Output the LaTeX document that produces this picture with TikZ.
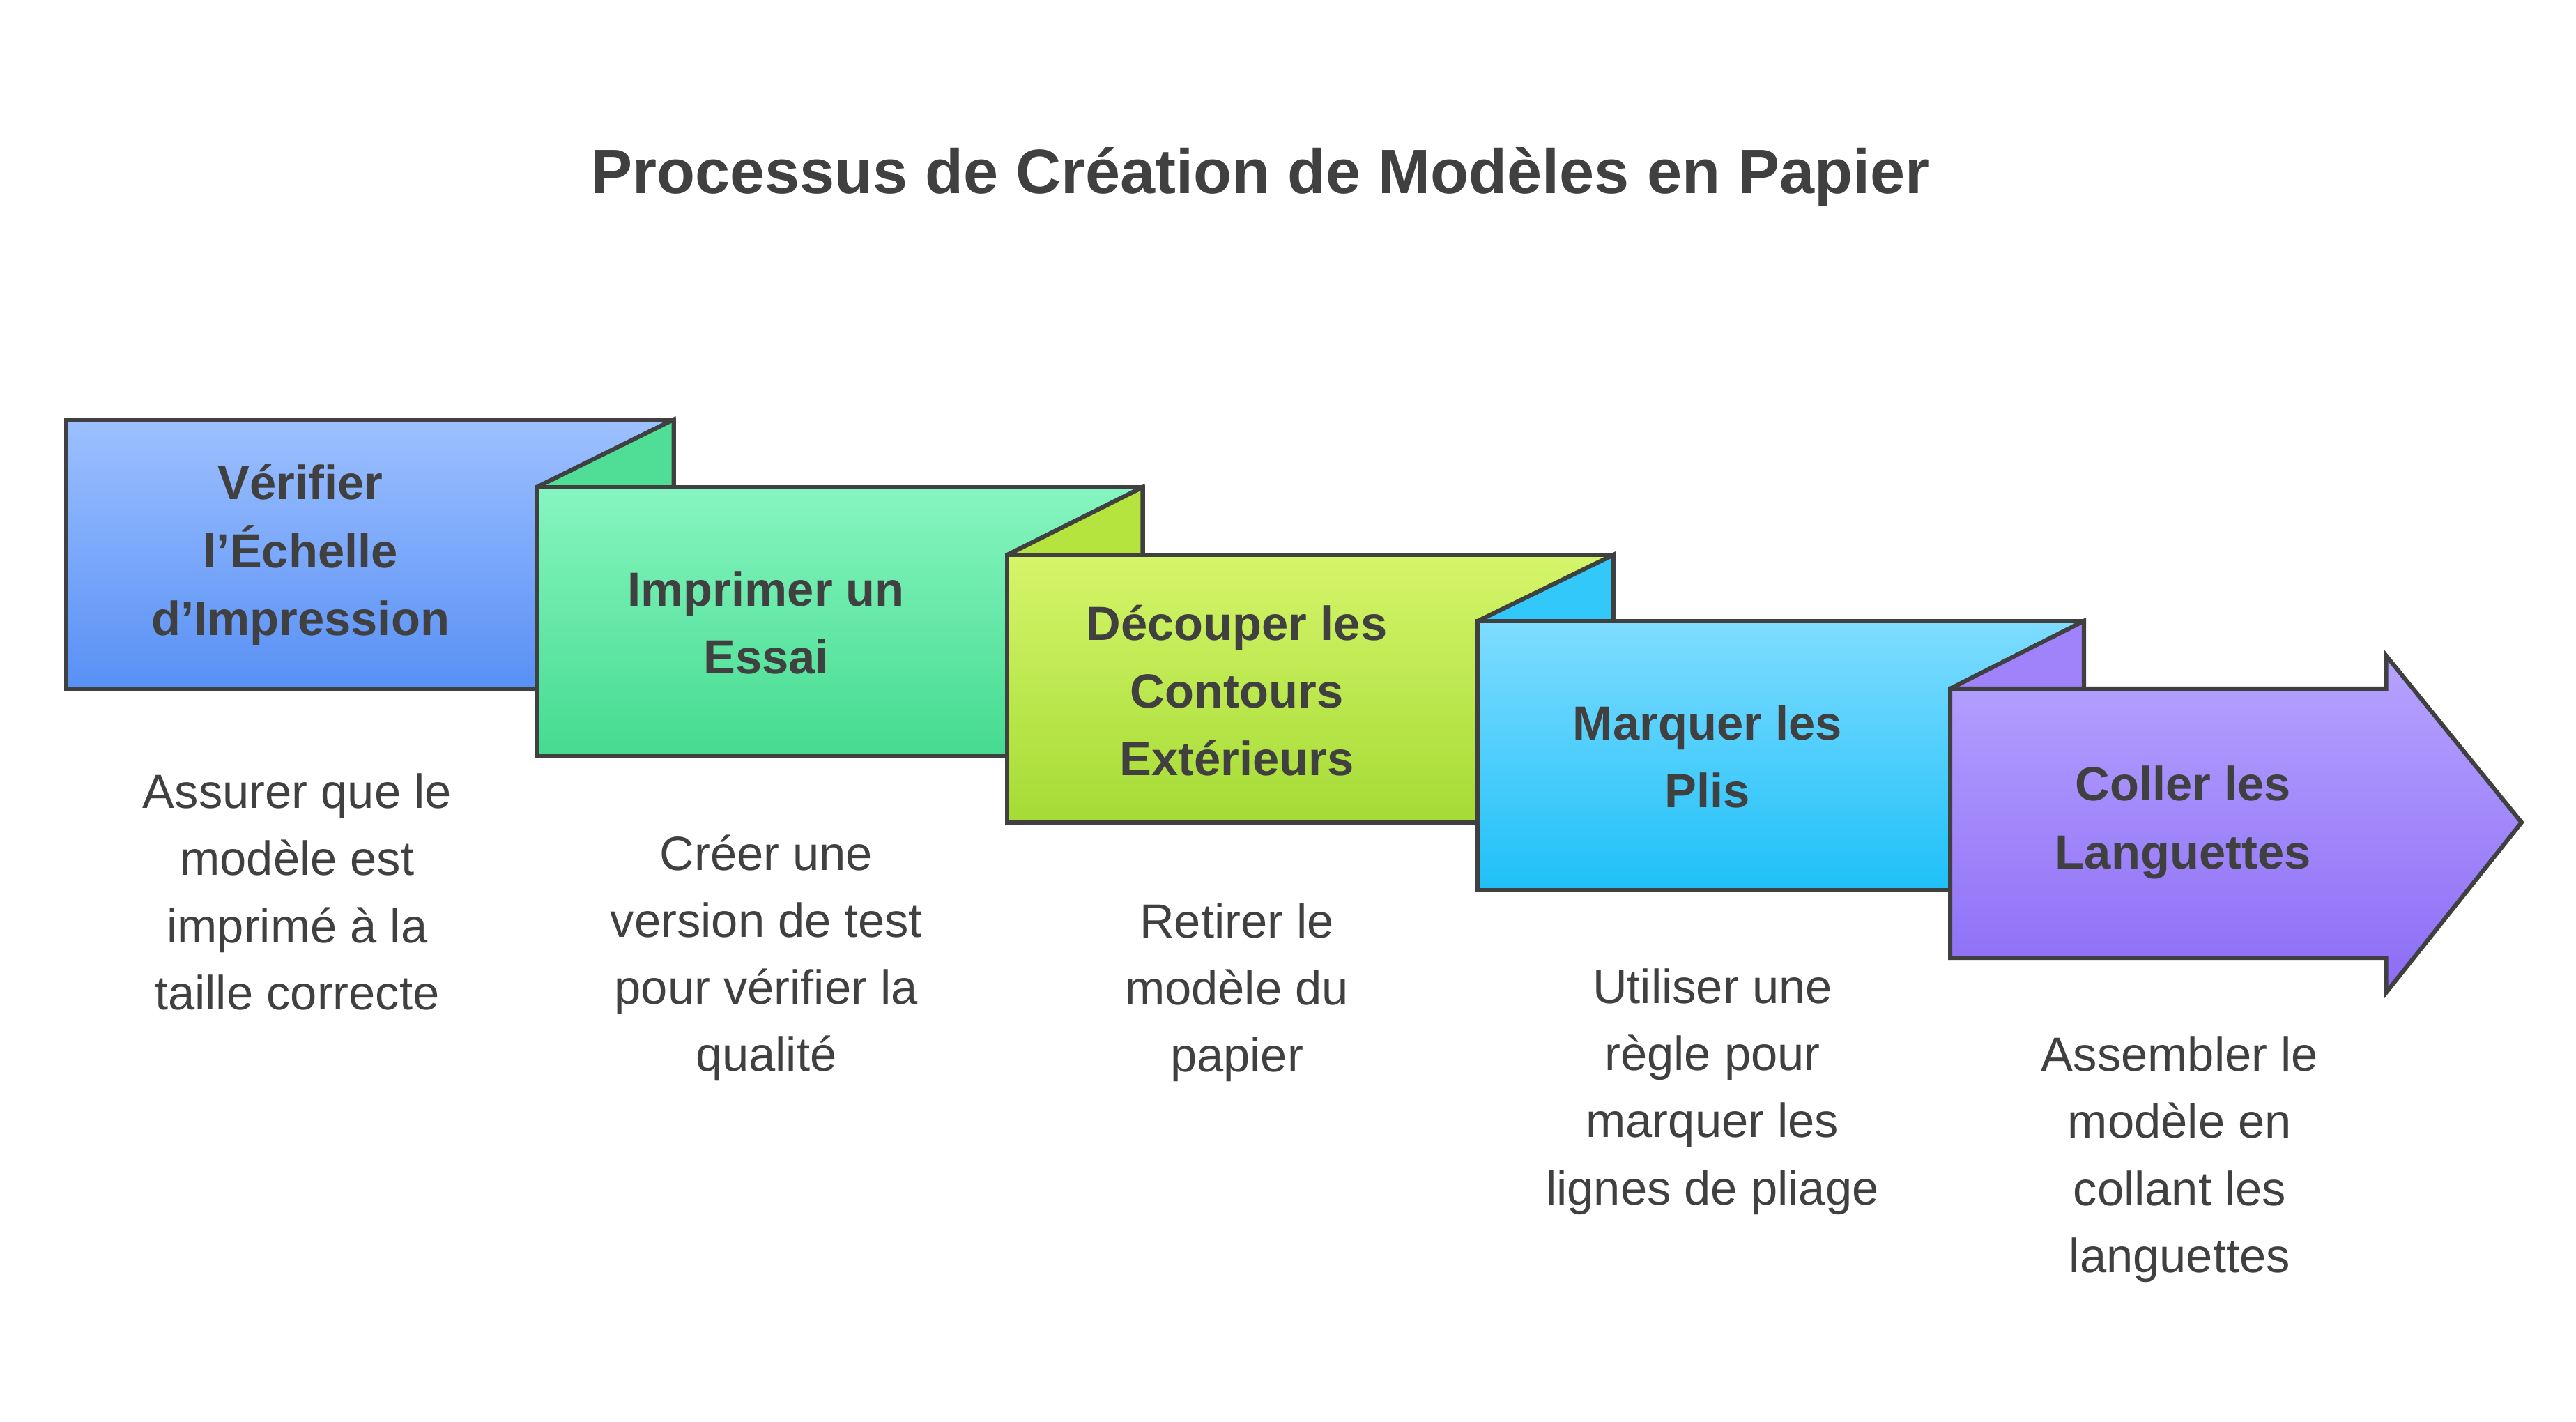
\documentclass[tikz,border=0pt]{standalone}
\usepackage{fontspec}
\setmainfont{Liberation Sans}
\definecolor{ink}{HTML}{404040}
\definecolor{f2}{RGB}{80,222,150}
\definecolor{f3}{RGB}{182,228,62}
\definecolor{f4}{RGB}{50,200,250}
\definecolor{f5}{RGB}{160,130,250}
\definecolor{t1}{RGB}{157,192,255}\definecolor{b1}{RGB}{88,144,245}
\definecolor{t2}{RGB}{134,245,192}\definecolor{b2}{RGB}{69,219,143}
\definecolor{t3}{RGB}{213,245,106}\definecolor{b3}{RGB}{165,219,53}
\definecolor{t4}{RGB}{127,220,255}\definecolor{b4}{RGB}{30,192,248}
\definecolor{t5}{RGB}{182,163,255}\definecolor{b5}{RGB}{140,108,245}
\begin{document}
\begin{tikzpicture}[x=1pt,y=-1pt,
  edge/.style={draw=ink,line width=2.6pt,line join=miter},
  lbl/.style={font=\fontsize{29}{41}\selectfont\bfseries,text=ink,align=center},
  desc/.style={font=\fontsize{29}{40.6}\selectfont,text=ink,align=center}]
\useasboundingbox (0,0) rectangle (1560,861);
\fill[white] (0,0) rectangle (1560,861);
\node[font=\fontsize{38}{46}\selectfont\bfseries,text=ink] (title) at (763,107) {Processus de Création de Modèles en Papier};
% box1
\shade[top color=t1,bottom color=b1] (40,254) rectangle (408,417);
\draw[edge] (40,254) rectangle (408,417);
% box2
\fill[f2] (325,295) -- (408,254) -- (408,295) -- cycle;
\draw[edge] (325,295) -- (408,254) -- (408,295);
\shade[top color=t2,bottom color=b2] (325,295) rectangle (692,458);
\draw[edge] (325,295) rectangle (692,458);
% box3
\fill[f3] (610,336) -- (692,295) -- (692,336) -- cycle;
\draw[edge] (610,336) -- (692,295) -- (692,336);
\shade[top color=t3,bottom color=b3] (610,336) rectangle (977,498);
\draw[edge] (610,336) rectangle (977,498);
% box4
\fill[f4] (895,376) -- (977,336) -- (977,376) -- cycle;
\draw[edge] (895,376) -- (977,336) -- (977,376);
\shade[top color=t4,bottom color=b4] (895,376) rectangle (1262,539);
\draw[edge] (895,376) rectangle (1262,539);
% box5
\fill[f5] (1181,417) -- (1262,376) -- (1262,417) -- cycle;
\draw[edge] (1181,417) -- (1262,376) -- (1262,417);
\shade[top color=t5,bottom color=b5] (1181,417) -- (1445,417) -- (1445,397) -- (1527,498) -- (1445,601) -- (1445,580) -- (1181,580) -- cycle;
\draw[edge] (1181,417) -- (1445,417) -- (1445,397) -- (1527,498) -- (1445,601) -- (1445,580) -- (1181,580) -- cycle;
% labels
\node[lbl] (l1) at (182,336) {Vérifier\\l'Échelle\\d'Impression};
\node[lbl] (l2) at (464,377) {Imprimer un\\Essai};
\node[lbl] (l3) at (749,418) {Découper les\\Contours\\Extérieurs};
\node[lbl] (l4) at (1034,458) {Marquer les\\Plis};
\node[lbl] (l5) at (1322,498) {Coller les\\Languettes};
\node[desc] (d1) at (180,540) {Assurer que le\\modèle est\\imprimé à la\\taille correcte};
\node[desc] (d2) at (464,580) {Créer une\\version de test\\pour vérifier la\\qualité};
\node[desc] (d3) at (749,601) {Retirer le\\modèle du\\papier};
\node[desc] (d4) at (1037,661) {Utiliser une\\règle pour\\marquer les\\lignes de pliage};
\node[desc] (d5) at (1320,702) {Assembler le\\modèle en\\collant les\\languettes};
\end{tikzpicture}
\end{document}
